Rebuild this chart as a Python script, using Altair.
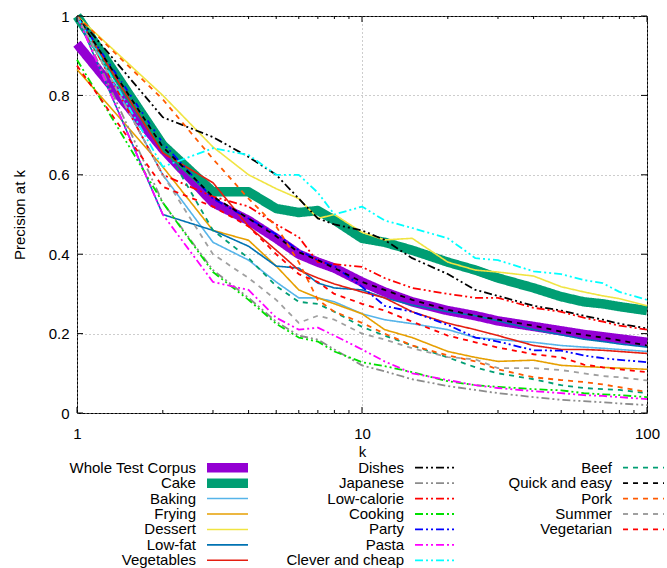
import altair as alt
import pandas as pd

FONT = "Liberation Sans"

# ---------------- data ----------------
k_values = [1, 2, 3, 4, 5, 6, 7, 8, 10, 12, 15, 20, 25, 30, 40, 50, 60, 70, 80, 100]

whole_test_corpus = [0.93, 0.665, 0.53, 0.485, 0.44, 0.40, 0.38, 0.365, 0.33, 0.305, 0.28, 0.258, 0.245, 0.232, 0.218, 0.207, 0.198, 0.192, 0.187, 0.178]
cake = [1.0, 0.675, 0.557, 0.557, 0.515, 0.505, 0.51, 0.486, 0.44, 0.43, 0.41, 0.38, 0.36, 0.34, 0.315, 0.293, 0.28, 0.275, 0.268, 0.258]
baking = [1.0, 0.60, 0.43, 0.385, 0.33, 0.29, 0.29, 0.28, 0.25, 0.235, 0.225, 0.21, 0.19, 0.185, 0.178, 0.17, 0.166, 0.163, 0.16, 0.155]
frying = [0.865, 0.62, 0.46, 0.435, 0.37, 0.31, 0.29, 0.275, 0.25, 0.21, 0.19, 0.155, 0.14, 0.13, 0.133, 0.12, 0.117, 0.115, 0.113, 0.11]
dessert = [1.0, 0.80, 0.67, 0.60, 0.565, 0.54, 0.49, 0.50, 0.455, 0.436, 0.44, 0.38, 0.36, 0.355, 0.345, 0.318, 0.305, 0.295, 0.288, 0.27]
low_fat = [1.0, 0.50, 0.46, 0.42, 0.37, 0.365, 0.327, 0.315, 0.31, 0.29, 0.272, 0.255, 0.245, 0.232, 0.21, 0.197, 0.186, 0.18, 0.174, 0.166]
vegetables = [1.0, 0.655, 0.58, 0.47, 0.41, 0.36, 0.34, 0.325, 0.305, 0.29, 0.255, 0.226, 0.21, 0.195, 0.17, 0.16, 0.16, 0.158, 0.155, 0.15]
dishes = [1.0, 0.745, 0.695, 0.645, 0.60, 0.54, 0.49, 0.475, 0.46, 0.436, 0.39, 0.35, 0.31, 0.295, 0.27, 0.258, 0.245, 0.235, 0.225, 0.213]
japanese = [1.0, 0.53, 0.36, 0.29, 0.23, 0.195, 0.185, 0.16, 0.12, 0.105, 0.085, 0.068, 0.058, 0.05, 0.04, 0.033, 0.03, 0.027, 0.024, 0.02]
low_calorie = [1.0, 0.60, 0.545, 0.52, 0.475, 0.443, 0.38, 0.375, 0.368, 0.34, 0.315, 0.30, 0.29, 0.29, 0.265, 0.255, 0.24, 0.23, 0.22, 0.21]
cooking = [0.89, 0.53, 0.355, 0.285, 0.225, 0.19, 0.18, 0.155, 0.128, 0.118, 0.103, 0.08, 0.07, 0.066, 0.06, 0.057, 0.05, 0.047, 0.045, 0.04]
party = [1.0, 0.68, 0.54, 0.49, 0.45, 0.41, 0.385, 0.37, 0.318, 0.27, 0.255, 0.222, 0.19, 0.18, 0.158, 0.157, 0.145, 0.138, 0.134, 0.128]
pasta = [1.0, 0.50, 0.33, 0.31, 0.24, 0.21, 0.215, 0.195, 0.16, 0.13, 0.10, 0.083, 0.07, 0.063, 0.055, 0.05, 0.045, 0.043, 0.04, 0.035]
clever_and_cheap = [1.0, 0.62, 0.667, 0.65, 0.60, 0.60, 0.555, 0.50, 0.52, 0.485, 0.466, 0.44, 0.39, 0.385, 0.357, 0.35, 0.335, 0.327, 0.305, 0.285]
beef = [1.0, 0.68, 0.46, 0.39, 0.32, 0.28, 0.275, 0.255, 0.217, 0.195, 0.17, 0.14, 0.115, 0.10, 0.085, 0.07, 0.063, 0.06, 0.058, 0.05]
quick_and_easy = [1.0, 0.67, 0.545, 0.49, 0.445, 0.405, 0.385, 0.365, 0.33, 0.31, 0.285, 0.26, 0.245, 0.235, 0.22, 0.205, 0.197, 0.19, 0.183, 0.17]
pork = [1.0, 0.79, 0.64, 0.54, 0.47, 0.38, 0.285, 0.255, 0.227, 0.20, 0.17, 0.145, 0.13, 0.11, 0.09, 0.083, 0.078, 0.072, 0.065, 0.053]
summer = [1.0, 0.60, 0.40, 0.34, 0.285, 0.227, 0.245, 0.235, 0.20, 0.185, 0.163, 0.141, 0.135, 0.113, 0.113, 0.108, 0.10, 0.093, 0.09, 0.082]
vegetarian = [0.875, 0.57, 0.52, 0.47, 0.40, 0.35, 0.33, 0.30, 0.275, 0.258, 0.23, 0.195, 0.178, 0.165, 0.148, 0.14, 0.122, 0.115, 0.11, 0.103]

series_names = ["Whole Test Corpus", "Cake", "Baking", "Frying", "Dessert", "Low-fat", "Vegetables",
                "Dishes", "Japanese", "Low-calorie", "Cooking", "Party", "Pasta", "Clever and cheap",
                "Beef", "Quick and easy", "Pork", "Summer", "Vegetarian"]
series_values = [whole_test_corpus, cake, baking, frying, dessert, low_fat, vegetables,
                 dishes, japanese, low_calorie, cooking, party, pasta, clever_and_cheap,
                 beef, quick_and_easy, pork, summer, vegetarian]

# ---------------- styles ----------------
SOLID = [1, 0]
DASHDOTDOT = [8, 3, 2, 3, 2, 3]
DASHED = [5, 5]
series_colors = ["#9400d3", "#009e73", "#56b4e9", "#e69f00", "#f0e442", "#0072b2", "#e51e10",
                 "#000000", "#8c8c8c", "#ff0000", "#00e000", "#0000ff", "#ff00ff", "#00ffff",
                 "#009e73", "#000000", "#ff5a00", "#a0a0a0", "#ff0000"]
series_dashes = [SOLID] * 7 + [DASHDOTDOT] * 7 + [DASHED] * 5
series_widths = [9.5, 9.5, 1.6, 1.6, 1.6, 1.6, 1.6] + [1.8] * 7 + [1.8] * 5

legend_columns = [0] * 7 + [1] * 7 + [2] * 5
legend_rows = list(range(7)) + list(range(7)) + list(range(5))

x_major_ticks = [1, 10, 100]
x_minor_ticks = [2, 3, 4, 5, 6, 7, 8, 9, 20, 30, 40, 50, 60, 70, 80, 90]
y_major_ticks = [0, 0.2, 0.4, 0.6, 0.8, 1]

# ---------------- main plot ----------------
lines_df = pd.DataFrame(
    [{"series": n, "k": k, "p": v}
     for n, vals in zip(series_names, series_values)
     for k, v in zip(k_values, vals)]
)

x_scale = alt.Scale(type="log", domain=[1, 100], nice=False)
y_scale = alt.Scale(domain=[0, 1], nice=False, zero=False)

x_enc = alt.X("k:Q", scale=x_scale, axis=alt.Axis(
    values=x_major_ticks, format="~g", title="k", grid=True, ticks=False, domain=False,
    labelFlush=False, labelPadding=13, titlePadding=3, gridDash=[1, 3], gridColor="#9a9a9a",
    labelFontSize=15, titleFontSize=15, titleFontWeight="normal",
    labelColor="black", titleColor="black", labelFont=FONT, titleFont=FONT))
y_enc = alt.Y("p:Q", scale=y_scale, axis=alt.Axis(
    values=y_major_ticks, format="~g", title="Precision at k", grid=True, ticks=False, domain=False,
    labelFlush=False, labelPadding=8, titlePadding=21, gridDash=[1, 3], gridColor="#9a9a9a",
    labelFontSize=15, titleFontSize=15, titleFontWeight="normal",
    labelColor="black", titleColor="black", labelFont=FONT, titleFont=FONT))

base = alt.Chart(lines_df)
line_layers = []
for name, color, dash, width in zip(series_names, series_colors, series_dashes, series_widths):
    line_layers.append(
        base.transform_filter(alt.datum.series == name)
        .mark_line(color=color, strokeDash=dash, strokeWidth=width, strokeCap="butt", strokeJoin="round")
        .encode(x=x_enc, y=y_enc)
    )

xt_major = pd.DataFrame({"k": x_major_ticks})
xt_minor = pd.DataFrame({"k": x_minor_ticks})
yt = pd.DataFrame({"p": y_major_ticks})

tick_layers = [
    alt.Chart(xt_major).mark_tick(orient="vertical", size=6, thickness=1, color="black", opacity=1, yOffset=-3)
    .encode(x=alt.X("k:Q", scale=x_scale), y=alt.datum(0)),
    alt.Chart(xt_major).mark_tick(orient="vertical", size=6, thickness=1, color="black", opacity=1, yOffset=3)
    .encode(x=alt.X("k:Q", scale=x_scale), y=alt.datum(1)),
    alt.Chart(xt_minor).mark_tick(orient="vertical", size=3, thickness=1, color="black", opacity=1, yOffset=-1.5)
    .encode(x=alt.X("k:Q", scale=x_scale), y=alt.datum(0)),
    alt.Chart(xt_minor).mark_tick(orient="vertical", size=3, thickness=1, color="black", opacity=1, yOffset=1.5)
    .encode(x=alt.X("k:Q", scale=x_scale), y=alt.datum(1)),
    alt.Chart(yt).mark_tick(orient="horizontal", size=6, thickness=1, color="black", opacity=1, xOffset=3)
    .encode(y=alt.Y("p:Q", scale=y_scale), x=alt.datum(1)),
    alt.Chart(yt).mark_tick(orient="horizontal", size=6, thickness=1, color="black", opacity=1, xOffset=-3)
    .encode(y=alt.Y("p:Q", scale=y_scale), x=alt.datum(100)),
]

main = alt.layer(*line_layers, *tick_layers).properties(
    width=570, height=397,
    view=alt.ViewBackground(stroke="black", strokeWidth=1),
)

# ---------------- key (three columns, label left of sample) ----------------
LABEL_END = 0.572
SAMPLE_START = 0.625
SAMPLE_END = 0.822
COL_PX = 208

legend_df = pd.DataFrame({"series": series_names, "col": legend_columns, "row": legend_rows})
legend_df["tx"] = legend_df["col"] + LABEL_END
legend_df["x1"] = legend_df["col"] + SAMPLE_START
legend_df["x2"] = legend_df["col"] + SAMPLE_END

lx = alt.Scale(domain=[0, 2 + SAMPLE_END], nice=False, zero=False)
ly = alt.Scale(domain=[-0.5, 6.5], nice=False, zero=False, reverse=True)

leg_base = alt.Chart(legend_df)
leg_text = leg_base.mark_text(align="right", baseline="middle", fontSize=15, font=FONT, color="black").encode(
    x=alt.X("tx:Q", scale=lx, axis=None), y=alt.Y("row:Q", scale=ly, axis=None), text="series:N")
leg_samples = []
for name, color, dash, width in zip(series_names, series_colors, series_dashes, series_widths):
    leg_samples.append(
        leg_base.transform_filter(alt.datum.series == name)
        .mark_rule(color=color, strokeDash=dash, strokeWidth=width, strokeCap="butt")
        .encode(x=alt.X("x1:Q", scale=lx, axis=None), x2="x2:Q", y=alt.Y("row:Q", scale=ly, axis=None))
    )

legend = alt.layer(leg_text, *leg_samples).properties(
    width=round(COL_PX * (2 + SAMPLE_END)), height=108,
    view=alt.ViewBackground(stroke="transparent"),
)

chart = (
    alt.vconcat(main, legend, spacing=-2)
    .properties(padding={"left": 11, "top": 8, "right": 0, "bottom": 0}, background="white")
    .configure(font=FONT)
)

chart.save("out.html", embed_options={"renderer": "svg", "actions": False})
